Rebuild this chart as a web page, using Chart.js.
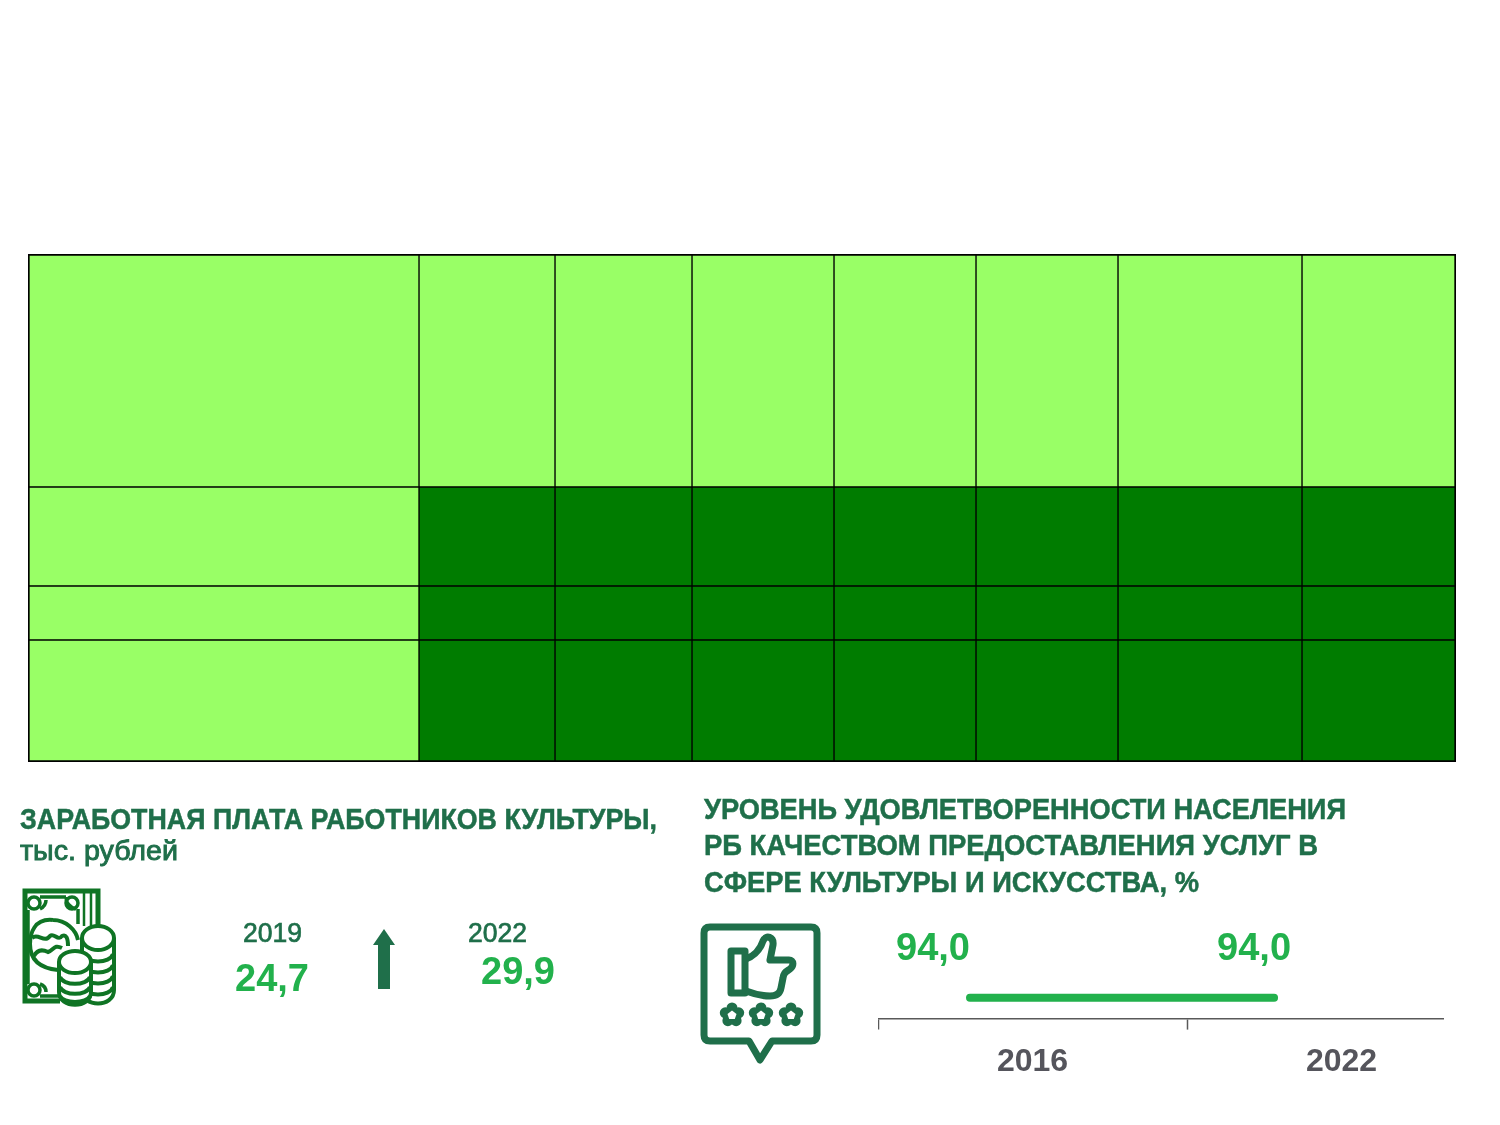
<!DOCTYPE html>
<html lang="ru">
<head>
<meta charset="utf-8">
<title>Культура</title>
<script src="https://cdn.jsdelivr.net/npm/chart.js@4"></script>
<style>
    html, body { margin: 0; padding: 0; background: #fff; }
    #page { position: relative; width: 1500px; height: 1125px; overflow: hidden; font-family: "Liberation Sans", Arial, sans-serif; }
    #overlay { position: absolute; left: 0; top: 0; }
    #tableBox { position: absolute; left: 28px; top: 254px; border: 1px solid #000; line-height: 0; }
    #lineBox { position: absolute; left: 870px; top: 900px; width: 574px; height: 190px; overflow: hidden; }
    #lineChart { position: absolute; left: 8px; top: 14px; }
</style>
</head>
<body>
<div id="page">
    <div id="tableBox"><canvas id="tableChart" width="1426" height="506"></canvas></div>
    <div id="lineBox"><canvas id="lineChart" width="618" height="180"></canvas></div>

    <svg id="overlay" width="1500" height="1125" xmlns="http://www.w3.org/2000/svg">
        <defs>
            <g id="flower">
                <circle cx="0" cy="-7" r="5.5"/>
                <circle cx="6.7" cy="-2.2" r="5.5"/>
                <circle cx="4.1" cy="5.7" r="5.5"/>
                <circle cx="-4.1" cy="5.7" r="5.5"/>
                <circle cx="-6.7" cy="-2.2" r="5.5"/>
                <circle cx="0" cy="0" r="6"/>
                <path d="M0 -4.5 L4.5 -1 L2.8 4 H-2.8 L-4.5 -1 Z" fill="#fff"/>
            </g>
        </defs>

        <g font-family="Liberation Sans" fill="#1f6f4a" stroke="#1f6f4a" stroke-width="0.5">
            <text x="20" y="829" font-size="29" font-weight="bold" textLength="637" lengthAdjust="spacingAndGlyphs">ЗАРАБОТНАЯ ПЛАТА РАБОТНИКОВ КУЛЬТУРЫ,</text>
            <text x="20" y="860" font-size="28" stroke-width="0.9" textLength="158" lengthAdjust="spacingAndGlyphs">тыс. рублей</text>
            <text x="704" y="819" font-size="29" font-weight="bold" textLength="642" lengthAdjust="spacingAndGlyphs">УРОВЕНЬ УДОВЛЕТВОРЕННОСТИ НАСЕЛЕНИЯ</text>
            <text x="704" y="855" font-size="29" font-weight="bold" textLength="614" lengthAdjust="spacingAndGlyphs">РБ КАЧЕСТВОМ ПРЕДОСТАВЛЕНИЯ УСЛУГ В</text>
            <text x="704" y="892" font-size="29" font-weight="bold" textLength="495" lengthAdjust="spacingAndGlyphs">СФЕРЕ КУЛЬТУРЫ И ИСКУССТВА, %</text>
            <text id="yearFrom" x="243" y="942" font-size="28" stroke-width="0.7" textLength="59" lengthAdjust="spacingAndGlyphs"></text>
            <text id="yearTo" x="468" y="942" font-size="28" stroke-width="0.7" textLength="59" lengthAdjust="spacingAndGlyphs"></text>
        </g>
        <g font-family="Liberation Sans" font-size="38" font-weight="bold" fill="#22b14c" text-anchor="middle">
            <text id="salaryFrom" x="272" y="991"></text>
            <text id="salaryTo" x="518" y="984"></text>
        </g>

        <!-- стрелка -->
        <path d="M378 989 V945 H373 L384 929 L395 945 H390 V989 Z" fill="#1f6f4a"/>

        <!-- купюра и монеты -->
        <g fill="none" stroke="#0f7424" stroke-width="3.5">
            <path d="M98 930 V891 H25 V1001 H60" stroke-width="5"/>
            <path d="M84 892 V926 M91 892 V926" stroke-width="2.5"/>
            <path d="M40 897 H66 M40 909 Q46 906 46 900 M28 910 V984 M40 996 H60 M40 984 Q46 986 46 992 M66 897 Q66 906 76 909 M78 909 V924"/>
            <circle cx="34" cy="903" r="6"/><circle cx="72" cy="903" r="6"/><circle cx="34" cy="990" r="6"/>
            <path d="M53 920 C34 918 30 934 30 944 C30 958 38 968 58 970 M53 920 C66 920 76 930 78 940" stroke-width="4"/>
            <path d="M32 938 C38 932 44 944 50 936 C54 932 58 942 62 936 C66 934 68 938 68 946 M34 956 C38 948 44 950 48 952 C54 950 54 944 62 948" stroke-width="4"/>
            <g fill="#fff" stroke-width="4">
                <path d="M82 938 V990 C82 1008 114 1008 114 990 V938"/>
                <ellipse cx="98" cy="938" rx="16" ry="12"/>
                <path d="M83 954 C86 964 110 964 113 954 M83 965 C86 975 110 975 113 965 M83 976 C86 986 110 986 113 976 M83 987 C86 997 110 997 113 987"/>
                <path d="M59 962 V992 C59 1009 91 1009 91 992 V962"/>
                <ellipse cx="75" cy="962" rx="16" ry="11"/>
                <path d="M60 977 C63 986 87 986 90 977 M60 987 C63 996 87 996 90 987 M60 996 C63 1004 87 1004 90 996"/>
            </g>
        </g>

        <!-- отзыв -->
        <g fill="none" stroke="#1f6f4a" stroke-linejoin="round">
            <path d="M710 927 H811 Q817 927 817 933 V1035 Q817 1041 811 1041 H772 L760 1060 L749 1041 H710 Q704 1041 704 1035 V933 Q704 927 710 927 Z" stroke-width="7"/>
            <path d="M731 951 H745 V993 H731 Z" stroke-width="7"/>
            <path d="M746 959 C754 956 760 950 763 941 C766 934 774 937 773 945 L770 960 H789 C794 960 794 966 790 969 C786 972 784 972 783 978 L781 988 C780 994 776 996 770 996 C760 996 754 994 746 991" stroke-width="7"/>
        </g>
        <g fill="#1f6f4a">
            <use href="#flower" x="732" y="1015"/>
            <use href="#flower" x="761" y="1015"/>
            <use href="#flower" x="791" y="1015"/>
        </g>
    </svg>
</div>

<script>
// таблица: ширина столбцов и высота строк
const columnWidths = [390, 136, 137, 142, 142, 142, 184, 153];
const rowHeights = [232, 99, 54, 121];
const lightGreen = '#99ff66';
const darkGreen = '#007c00';

// заработная плата
const salaryYears = ['2019', '2022'];
const salaryValues = [24.7, 29.9];

// уровень удовлетворенности
const surveyYears = ['2016', '2022'];
const surveyValues = [94.0, 94.0];

function sum(list) {
    return list.reduce((a, b) => a + b, 0);
}

function formatValue(v) {
    return v.toFixed(1).replace('.', ',');
}

// подписи показателя зарплаты
document.getElementById('yearFrom').textContent = salaryYears[0];
document.getElementById('yearTo').textContent = salaryYears[1];
document.getElementById('salaryFrom').textContent = formatValue(salaryValues[0]);
document.getElementById('salaryTo').textContent = formatValue(salaryValues[1]);

// границы строк считаем накопительно
const rowStarts = rowHeights.map((h, i) => sum(rowHeights.slice(0, i)));

const tableCanvas = document.getElementById('tableChart');
const pixelsPerUnit = tableCanvas.width / sum(columnWidths);

const tableDatasets = columnWidths.map((width, col) => {
    const center = sum(columnWidths.slice(0, col)) + width / 2;
    return {
        stack: 'table',
        barThickness: width * pixelsPerUnit,
        data: rowHeights.map((h, row) => ({ x: center, y: [rowStarts[row], rowStarts[row] + h] })),
        backgroundColor: rowHeights.map((h, row) => (col === 0 || row === 0) ? lightGreen : darkGreen),
        borderColor: '#000',
        borderWidth: 1,
        borderSkipped: false
    };
});

new Chart(tableCanvas, {
    type: 'bar',
    data: { datasets: tableDatasets },
    options: {
        responsive: false,
        animation: false,
        plugins: { legend: { display: false }, tooltip: { enabled: false } },
        scales: {
            x: { type: 'linear', stacked: true, offset: false, min: 0, max: sum(columnWidths), display: false },
            y: { reverse: true, min: 0, max: sum(rowHeights), display: false }
        }
    }
});

// подписи значений над линией
const labelShift = [-37, -20];
const valueLabels = {
    id: 'valueLabels',
    afterDatasetsDraw(chart) {
        const ctx = chart.ctx;
        ctx.save();
        ctx.font = 'bold 38px "Liberation Sans"';
        ctx.fillStyle = '#22b14c';
        ctx.textAlign = 'center';
        ctx.textBaseline = 'alphabetic';
        chart.getDatasetMeta(0).data.forEach((point, i) => {
            ctx.fillText(formatValue(surveyValues[i]), point.x + labelShift[i], point.y - 38);
        });
        ctx.restore();
    }
};

new Chart(document.getElementById('lineChart'), {
    type: 'line',
    data: {
        labels: surveyYears,
        datasets: [{
            data: surveyValues.map((v, i) => ({ x: i, y: v })),
            xAxisID: 'xLine',
            borderColor: '#22b14c',
            borderWidth: 8,
            borderCapStyle: 'round',
            pointRadius: 0,
            tension: 0
        }]
    },
    options: {
        responsive: false,
        animation: false,
        clip: false,
        plugins: { legend: { display: false }, tooltip: { enabled: false } },
        scales: {
            x: {
                type: 'category',
                offset: true,
                grid: { display: true, offset: true, drawOnChartArea: false, drawTicks: true, tickLength: 11, tickColor: '#595959', tickWidth: 1.5 },
                border: { display: true, color: '#595959', width: 1.5 },
                ticks: { color: '#55555c', padding: 13, font: { family: 'Liberation Sans', size: 32, weight: 'bold' }, maxRotation: 0 }
            },
            xLine: { type: 'linear', display: false, min: -0.3026, max: 1.73 },
            y: { display: false, min: 90, max: 110 }
        }
    },
    plugins: [valueLabels]
});
</script>
</body>
</html>
